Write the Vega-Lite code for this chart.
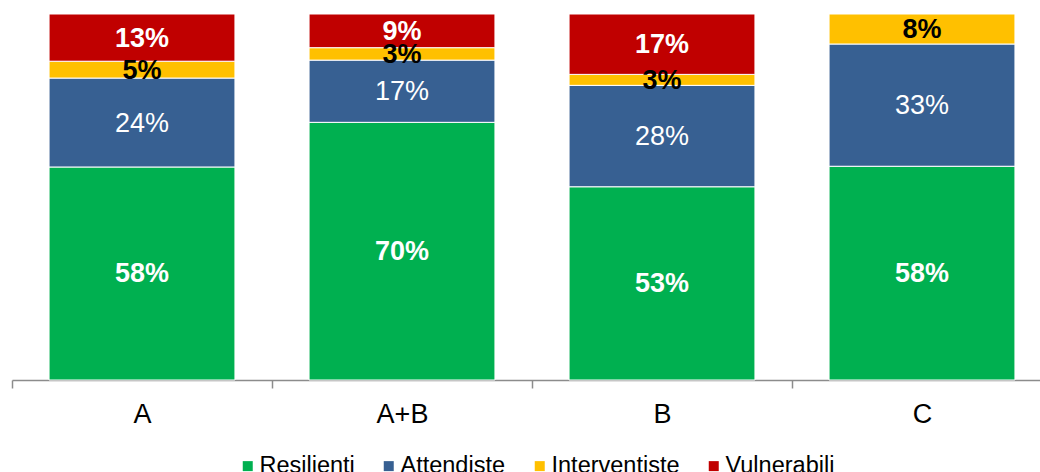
{
  "$schema": "https://vega.github.io/schema/vega-lite/v6.json",
  "width": 1028,
  "height": 366,
  "autosize": "none",
  "padding": {"left": 12, "top": 14, "right": 0, "bottom": 92},
  "background": "white",
  "config": {"view": {"stroke": null}, "font": "Liberation Sans"},
  "data": {
    "values": [
      {"cat": "A", "s": "Resilienti", "ord": 1, "v": 58.2, "label": "58%"},
      {"cat": "A", "s": "Attendiste", "ord": 2, "v": 24.3, "label": "24%"},
      {"cat": "A", "s": "Interventiste", "ord": 3, "v": 4.6, "label": "5%"},
      {"cat": "A", "s": "Vulnerabili", "ord": 4, "v": 12.9, "label": "13%"},
      {"cat": "A+B", "s": "Resilienti", "ord": 1, "v": 70.4, "label": "70%"},
      {"cat": "A+B", "s": "Attendiste", "ord": 2, "v": 17.0, "label": "17%"},
      {"cat": "A+B", "s": "Interventiste", "ord": 3, "v": 3.4, "label": "3%"},
      {"cat": "A+B", "s": "Vulnerabili", "ord": 4, "v": 9.2, "label": "9%"},
      {"cat": "B", "s": "Resilienti", "ord": 1, "v": 52.8, "label": "53%"},
      {"cat": "B", "s": "Attendiste", "ord": 2, "v": 27.7, "label": "28%"},
      {"cat": "B", "s": "Interventiste", "ord": 3, "v": 3.0, "label": "3%"},
      {"cat": "B", "s": "Vulnerabili", "ord": 4, "v": 16.5, "label": "17%"},
      {"cat": "C", "s": "Resilienti", "ord": 1, "v": 58.4, "label": "58%"},
      {"cat": "C", "s": "Attendiste", "ord": 2, "v": 33.4, "label": "33%"},
      {"cat": "C", "s": "Interventiste", "ord": 3, "v": 8.2, "label": "8%"}
    ]
  },
  "transform": [
    {"stack": "v", "groupby": ["cat"], "sort": [{"field": "ord", "order": "ascending"}], "offset": "normalize", "as": ["v0", "v1"]},
    {"calculate": "(datum.v0 + datum.v1) / 2", "as": "mid"}
  ],
  "encoding": {
    "x": {
      "field": "cat",
      "type": "nominal",
      "sort": ["A", "A+B", "B", "C"],
      "scale": {"paddingInner": 0.285, "paddingOuter": 0.1425, "range": [0, 1040]},
      "axis": {
        "title": null,
        "labelAngle": 0,
        "labelFont": "Liberation Sans",
        "labelFontSize": 27,
        "labelColor": "black",
        "labelPadding": 13,
        "tickOffset": -130,
        "labelOffset": 130,
        "tickSize": 8,
        "tickColor": "#8c8c8c",
        "tickWidth": 1.5,
        "domainColor": "#8c8c8c",
        "domainWidth": 1.5,
        "grid": false
      }
    }
  },
  "layer": [
    {
      "mark": {"type": "bar", "stroke": "white", "strokeWidth": 1},
      "encoding": {
        "y": {"field": "v0", "type": "quantitative", "scale": {"domain": [0, 1]}, "axis": null},
        "y2": {"field": "v1"},
        "color": {
          "field": "s",
          "type": "nominal",
          "scale": {
            "domain": ["Resilienti", "Attendiste", "Interventiste", "Vulnerabili"],
            "range": ["#00B050", "#376092", "#FFC000", "#C00000"]
          },
          "legend": {
            "title": null,
            "orient": "none",
            "legendX": 224,
            "legendY": 440,
            "direction": "horizontal",
            "padding": 0,
            "symbolType": "square",
            "symbolSize": 100,
            "symbolStrokeWidth": 0,
            "labelFont": "Liberation Sans",
            "labelFontSize": 23.5,
            "labelColor": "black",
            "labelOffset": 0,
            "columnPadding": 22,
            "labelLimit": 300
          }
        }
      }
    },
    {
      "transform": [{"filter": "datum.s != 'Attendiste'"}],
      "mark": {"type": "text", "font": "Liberation Sans", "fontWeight": "bold", "fontSize": 27, "baseline": "middle", "dy": 1},
      "encoding": {
        "y": {"field": "mid", "type": "quantitative"},
        "text": {"field": "label"},
        "color": {"condition": {"test": "datum.s == 'Interventiste'", "value": "black"}, "value": "white"}
      }
    },
    {
      "transform": [{"filter": "datum.s == 'Attendiste'"}],
      "mark": {"type": "text", "font": "Liberation Sans", "fontWeight": "normal", "fontSize": 27, "baseline": "middle", "dy": 1, "color": "white"},
      "encoding": {
        "y": {"field": "mid", "type": "quantitative"},
        "text": {"field": "label"}
      }
    }
  ]
}
